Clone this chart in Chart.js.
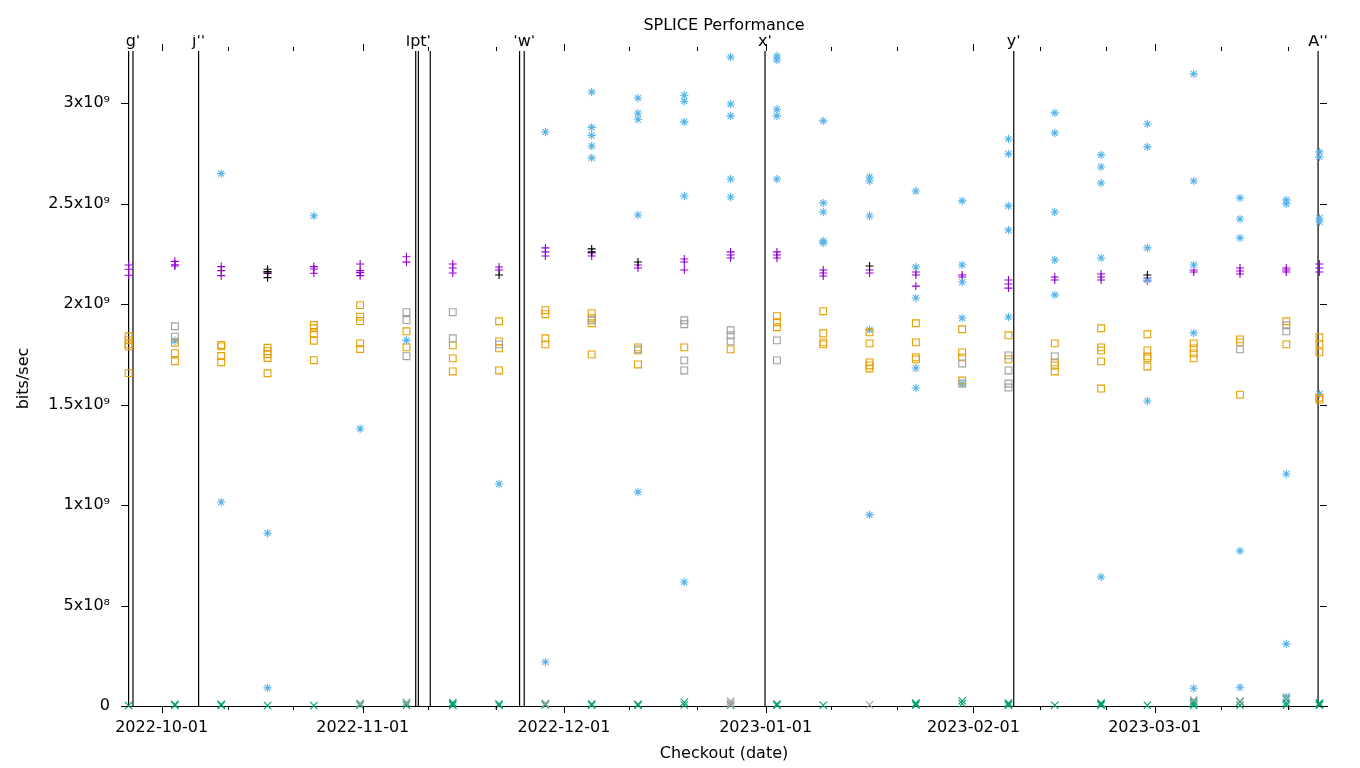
<!DOCTYPE html>
<html><head><meta charset="utf-8">
<script src="https://cdn.jsdelivr.net/npm/chart.js@4/dist/chart.umd.min.js"></script>
<style>html,body{margin:0;padding:0;background:#fff;}canvas{display:block;}</style>
</head><body>
<canvas id="c" width="1360" height="768"></canvas>
<script>
// ---------- data (values in units of 1e9 bits/sec) ----------
const checkoutDates = ['2022-09-26','2022-10-03','2022-10-10','2022-10-17','2022-10-24','2022-10-31',
  '2022-11-07','2022-11-14','2022-11-21','2022-11-28','2022-12-05','2022-12-12','2022-12-19','2022-12-26',
  '2023-01-02','2023-01-09','2023-01-16','2023-01-23','2023-01-30','2023-02-06','2023-02-13','2023-02-20',
  '2023-02-27','2023-03-06','2023-03-13','2023-03-20','2023-03-25'];

const purplePlus = [[2.195,2.174,2.144],[2.213,2.196,2.19],[2.187,2.167,2.142],[2.162,2.154],[2.187,2.175,2.154],
  [2.2,2.167,2.157,2.142],[2.236,2.209],[2.2,2.18,2.155],[2.185,2.17],[2.28,2.26,2.24],[2.255,2.24],[2.195,2.18],
  [2.225,2.21,2.17],[2.26,2.245,2.23],[2.26,2.245,2.23],[2.17,2.155,2.14],[2.17,2.155],[2.16,2.145,2.09],
  [2.145,2.135],[2.12,2.1,2.08],[2.135,2.12],[2.15,2.135,2.12],[2.13,2.115],[2.17,2.16],[2.18,2.165,2.15],
  [2.18,2.17,2.16],[2.2,2.18,2.16]];

const blackPlus = [[],[],[],[2.174,2.162,2.154,2.132],[],[],[],[],[2.145],[],[2.275,2.26],[2.21],[],[],[],[],
  [2.19],[],[],[],[],[],[2.145],[],[],[],[]];

const greenX = [[0.002],[0.003,0.008],[0.003,0.008],[0.002],[0.002],[0.004,0.012],[0.004,0.015],[0.003,0.01,0.016],
  [0.003,0.01],[0.005,0.012],[0.004,0.01],[0.003,0.009],[0.005,0.018],[0.004],[0.003,0.01],[0.004],[],
  [0.004,0.01,0.014],[0.012,0.026],[0.003,0.01,0.015],[0.004],[0.004,0.01,0.014],[0.004],[0.003,0.012,0.022],
  [0.004,0.02],[0.004,0.015,0.035],[0.004,0.01,0.014]];

const grayX = [[],[],[],[],[],[0.01],[0.018],[],[],[0.01],[],[],[],[0.005,0.015,0.025],[],[],[0.006],[],[],[],[],[],[],
  [0.03],[0.025],[0.045],[]];

const blueStar = [[],[1.818],[2.65,1.015],[0.86,0.09],[2.44],[1.38],[1.82],[],[1.105],[2.857,0.219],
  [3.056,2.88,2.84,2.787,2.728],[3.026,2.95,2.92,2.444,1.065],[3.04,3.01,2.907,2.538,0.617],
  [3.23,2.996,2.937,2.623,2.533],[3.235,3.215,2.97,2.937,2.623],[2.912,2.504,2.459,2.315,2.305],
  [2.633,2.613,2.439,1.872,0.951],[2.563,2.185,2.031,1.682,1.583],[2.514,2.195,2.11,1.931,1.603],
  [2.822,2.748,2.489,2.369,1.936],[2.952,2.852,2.459,2.22,2.046],[2.743,2.683,2.603,2.23,0.642],
  [2.897,2.783,2.28,2.12,1.518],[3.146,2.613,2.195,1.857,0.088],[2.529,2.424,2.33,0.772,0.093],
  [2.519,2.499,1.155,0.309,0.045],[2.758,2.733,2.429,2.409,1.553]];

const orangeSquare = [[1.84,1.82,1.8,1.79,1.657],[1.808,1.756,1.716],[1.797,1.79,1.742,1.711],
  [1.783,1.766,1.751,1.732,1.656],[1.896,1.88,1.855,1.818,1.721],[1.995,1.938,1.916,1.805,1.777],
  [1.865,1.785],[1.795,1.73,1.665],[1.915,1.815,1.78,1.67],[1.97,1.95,1.83,1.8],[1.955,1.93,1.905,1.75],
  [1.785,1.77,1.7],[1.785],[1.775],[1.94,1.91,1.885],[1.965,1.855,1.81,1.8],[1.86,1.805,1.71,1.695,1.68],
  [1.905,1.81,1.735,1.725],[1.875,1.76,1.735,1.62],[1.845,1.725],[1.805,1.71,1.695,1.665],
  [1.88,1.785,1.77,1.715,1.58],[1.85,1.77,1.74,1.73,1.69],[1.805,1.78,1.755,1.73],[1.825,1.81,1.55],
  [1.915,1.8],[1.835,1.8,1.76,1.535,1.525]];

const graySquare = [[],[1.89,1.838],[],[],[],[],[1.96,1.921,1.741],[1.96,1.83],[1.8],[],[1.92],[1.775],
  [1.92,1.9,1.72,1.67],[1.87,1.845,1.815],[1.82,1.72],[],[],[],[1.705,1.605],[1.745,1.67,1.605,1.585],[1.74],
  [],[],[],[1.775],[1.895,1.865],[]];

// release markers (days after 2022-10-01) and their top labels
const releaseDays = [-5.0,-4.34,5.58,38.4,38.8,40.6,54.1,54.8,91.2,128.8,174.8];
const releaseLabels = ['',"g'","j''",'',"lpt'",'','',"'w'","x'","y'","A''"];

// axis ticks
const majorTickDays = [0,30.4,60.8,91.3,122.7,150.1];
const majorTickLabels = ['2022-10-01','2022-11-01','2022-12-01','2023-01-01','2023-02-01','2023-03-01'];
const minorTickDays = [10.0,19.9,40.3,50.6,70.7,80.9,101.2,111.2,132.7,142.7,160.2,170.2];
const yTickValues = [0,5e8,1e9,1.5e9,2e9,2.5e9,3e9];
const yTickLabels = ['0','5x10⁸','1x10⁹','1.5x10⁹','2x10⁹','2.5x10⁹','3x10⁹'];
const X_MIN = -6.15, X_MAX = 176.15, Y_MAX = 3.26e9;

// ---------- build ----------
const base = Date.UTC(2022,9,1);
const dayOf = s => { const [y,m,d] = s.split('-').map(Number); return (Date.UTC(y,m-1,d)-base)/86400000; };
const days = checkoutDates.map(dayOf);
const pts = arr => arr.flatMap((col,i) => col.map(v => ({x: days[i], y: v*1e9})));

const FONT = {family: "'DejaVu Sans', sans-serif", size: 16};
const pointSet = (label, arr, color, style, r, order) => ({
  label, data: pts(arr), borderColor: color, backgroundColor: 'rgba(0,0,0,0)',
  pointStyle: style, pointRadius: r, pointBorderWidth: 1.1, borderWidth: 1, showLine: false, clip: false, order
});

const datasets = releaseDays.map(d => ({
  label: 'release', data: [{x: d, y: 0}, {x: d, y: Y_MAX}], showLine: true, borderColor: '#000',
  borderWidth: 1.2, pointRadius: 0, order: 20
}));
datasets.push(
  pointSet('p1', purplePlus, '#9400d3', 'cross', 4, 7),
  pointSet('p2', greenX, '#009e73', 'crossRot', 5.2, 6),
  pointSet('p3', blueStar, '#56b4e9', 'star', 4.2, 5),
  pointSet('p4', orangeSquare, '#e69f00', 'rect', 4.8, 4),
  pointSet('p5', blackPlus, '#000000', 'cross', 4, 3),
  pointSet('p6', graySquare, '#a0a0a0', 'rect', 4.8, 2),
  pointSet('p7', grayX, '#a0a0a0', 'crossRot', 5.2, 1)
);

const tickMarks = {
  id: 'tickMarks',
  afterDraw(chart) {
    const {ctx, chartArea: a, scales: {x, y}} = chart;
    ctx.save();
    ctx.strokeStyle = '#000'; ctx.lineWidth = 1;
    ctx.beginPath();
    const px = v => Math.round(x.getPixelForValue(v)) + 0.5;
    majorTickDays.forEach(d => { const p = px(d);
      ctx.moveTo(p, a.bottom); ctx.lineTo(p, a.bottom + 7);
      ctx.moveTo(p, a.top); ctx.lineTo(p, a.top - 7); });
    minorTickDays.forEach(d => { const p = px(d);
      ctx.moveTo(p, a.bottom); ctx.lineTo(p, a.bottom + 4);
      ctx.moveTo(p, a.top); ctx.lineTo(p, a.top - 4); });
    yTickValues.forEach(v => { const p = Math.round(y.getPixelForValue(v)) + 0.5;
      ctx.moveTo(a.left, p); ctx.lineTo(a.left + 7, p);
      ctx.moveTo(a.right, p); ctx.lineTo(a.right - 7, p); });
    ctx.stroke();
    ctx.restore();
  }
};

new Chart(document.getElementById('c'), {
  type: 'scatter',
  data: {datasets},
  plugins: [tickMarks],
  options: {
    responsive: false, animation: false, events: [], devicePixelRatio: 1,
    layout: {padding: {left: 0, right: 33, top: 0, bottom: 0}},
    plugins: {
      legend: {display: false}, tooltip: {enabled: false},
      title: {display: true, text: 'SPLICE Performance', color: '#000', fullSize: false,
        font: {...FONT, weight: 'normal'}, padding: {top: 16, bottom: 0}}
    },
    scales: {
      x: {
        type: 'linear', position: 'bottom', min: X_MIN, max: X_MAX, bounds: 'data',
        afterBuildTicks: s => { s.ticks = majorTickDays.map(v => ({value: v})); },
        afterFit: s => { s.height = 62; },
        ticks: {callback: (v, i) => majorTickLabels[i], autoSkip: false, maxRotation: 0, minRotation: 0,
          padding: 12.4, color: '#000', font: FONT},
        grid: {display: true, drawOnChartArea: false, drawTicks: false},
        border: {display: true, color: '#000', width: 1},
        title: {display: true, text: 'Checkout (date)', color: '#000', font: FONT, padding: {top: 0, bottom: 4.9}}
      },
      x2: {
        type: 'linear', position: 'top', min: X_MIN, max: X_MAX, bounds: 'data',
        afterBuildTicks: s => { s.ticks = releaseDays.map(v => ({value: v})); },
        afterFit: s => { s.height = 15.8; },
        ticks: {callback: (v, i) => releaseLabels[i], autoSkip: false, maxRotation: 0, minRotation: 0,
          padding: 0, color: '#000', font: FONT},
        grid: {display: true, drawOnChartArea: false, drawTicks: false},
        border: {display: false}
      },
      y: {
        type: 'linear', position: 'left', min: 0, max: Y_MAX, bounds: 'data',
        afterBuildTicks: s => { s.ticks = yTickValues.map(v => ({value: v})); },
        afterFit: s => { s.width = 121; },
        ticks: {callback: (v, i) => yTickLabels[i], autoSkip: false, padding: 11, color: '#000', font: FONT},
        grid: {display: true, drawOnChartArea: false, drawTicks: false},
        border: {display: false},
        title: {display: true, text: 'bits/sec', color: '#000', font: FONT, padding: {top: 14.4, bottom: 0}}
      }
    }
  }
});
</script>
</body></html>
